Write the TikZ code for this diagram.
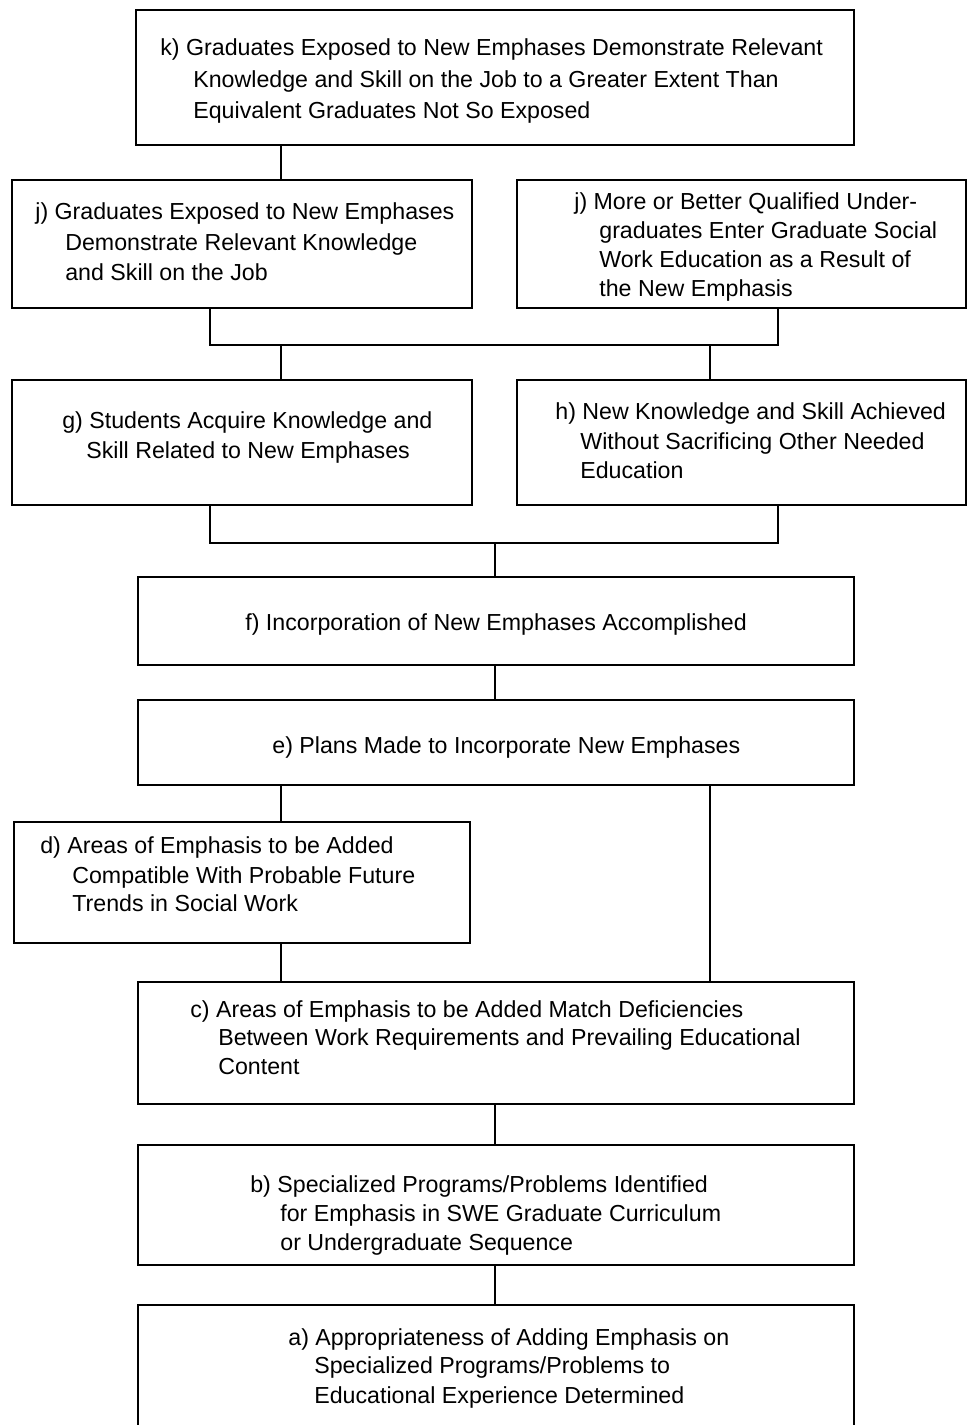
\documentclass[tikz,border=0pt]{standalone}
\usepackage{fontspec}
\setmainfont{Liberation Sans}
\begin{document}
\begin{tikzpicture}[x=0.02cm,y=-0.02cm,
  box/.style={draw, line width=1.4pt, inner sep=0pt},
  wire/.style={draw, line width=0.9pt},
  txt/.style={inner sep=0pt, anchor=mid west, yshift=-0.05cm,
              font=\fontsize{13.2}{16}\selectfont}]
\useasboundingbox (0,0) rectangle (968,1425);

% ---- boxes, named by their letter -------------------------------------
\node[box, minimum width=718*0.02cm, minimum height=135*0.02cm] (k)  at (495,77.5)  {};
\node[box, minimum width=460*0.02cm, minimum height=128*0.02cm] (jl) at (242,244)   {};
\node[box, minimum width=449*0.02cm, minimum height=128*0.02cm] (jr) at (741.5,244) {};
\node[box, minimum width=460*0.02cm, minimum height=125*0.02cm] (g)  at (242,442.5) {};
\node[box, minimum width=449*0.02cm, minimum height=125*0.02cm] (h)  at (741.5,442.5) {};
\node[box, minimum width=716*0.02cm, minimum height=88*0.02cm]  (f)  at (496,621)   {};
\node[box, minimum width=716*0.02cm, minimum height=85*0.02cm]  (e)  at (496,742.5) {};
\node[box, minimum width=456*0.02cm, minimum height=121*0.02cm] (d)  at (242,882.5) {};
\node[box, minimum width=716*0.02cm, minimum height=122*0.02cm] (c)  at (496,1043)  {};
\node[box, minimum width=716*0.02cm, minimum height=120*0.02cm] (b)  at (496,1205)  {};
\node[box, minimum width=716*0.02cm, minimum height=130*0.02cm] (a)  at (496,1370)  {};

% ---- box texts -----------------------------------------------------------
\node[txt] (k1) at (160,48)  {k) Graduates Exposed to New Emphases Demonstrate Relevant};
\node[txt] (k2) at (193,80)  {Knowledge and Skill on the Job to a Greater Extent Than};
\node[txt] (k3) at (193,111) {Equivalent Graduates Not So Exposed};

\node[txt] (jl1) at (35,212) {j) Graduates Exposed to New Emphases};
\node[txt] (jl2) at (65,243) {Demonstrate Relevant Knowledge};
\node[txt] (jl3) at (65,273) {and Skill on the Job};

\node[txt] (jr1) at (574,202) {j) More or Better Qualified Under-};
\node[txt] (jr2) at (599,231) {graduates Enter Graduate Social};
\node[txt] (jr3) at (599,260) {Work Education as a Result of};
\node[txt] (jr4) at (599,289) {the New Emphasis};

\node[txt] (g1) at (62,421) {g) Students Acquire Knowledge and};
\node[txt] (g2) at (86,451) {Skill Related to New Emphases};

\node[txt] (h1) at (555,412) {h) New Knowledge and Skill Achieved};
\node[txt] (h2) at (580,442) {Without Sacrificing Other Needed};
\node[txt] (h3) at (580,471) {Education};

\node[txt] (f1) at (245,623) {f) Incorporation of New Emphases Accomplished};

\node[txt] (e1) at (272,746) {e) Plans Made to Incorporate New Emphases};

\node[txt] (d1) at (40,846) {d) Areas of Emphasis to be Added};
\node[txt] (d2) at (72,876) {Compatible With Probable Future};
\node[txt] (d3) at (72,904) {Trends in Social Work};

\node[txt] (c1) at (190,1010) {c) Areas of Emphasis to be Added Match Deficiencies};
\node[txt] (c2) at (218,1038) {Between Work Requirements and Prevailing Educational};
\node[txt] (c3) at (218,1067) {Content};

\node[txt] (b1) at (250,1185) {b) Specialized Programs/Problems Identified};
\node[txt] (b2) at (280,1214) {for Emphasis in SWE Graduate Curriculum};
\node[txt] (b3) at (280,1243) {or Undergraduate Sequence};

\node[txt] (a1) at (288,1338) {a) Appropriateness of Adding Emphasis on};
\node[txt] (a2) at (314,1366) {Specialized Programs/Problems to};
\node[txt] (a3) at (314,1396) {Educational Experience Determined};

% ---- connectors ----------------------------------------------------------
\coordinate (kx) at (281,0);
\draw[wire] (k.south -| kx) -- (jl.north -| kx);

% bracket joining the two j boxes, fed by g and h
\coordinate (uL) at (210,345);
\coordinate (uR) at (778,345);
\coordinate (uG) at (281,345);
\coordinate (uH) at (710,345);
\draw[wire] (jl.south -| uL) -- (uL) -- (uR) -- (jr.south -| uR);
\draw[wire] (uG) -- (g.north -| uG);
\draw[wire] (uH) -- (h.north -| uH);

% bracket joining g and h, fed by f
\coordinate (lL) at (210,543);
\coordinate (lR) at (778,543);
\coordinate (lM) at (495,543);
\draw[wire] (g.south -| lL) -- (lL) -- (lR) -- (h.south -| lR);
\draw[wire] (lM) -- (f.north -| lM);

\coordinate (mx) at (495,0);
\draw[wire] (f.south -| mx) -- (e.north -| mx);

% e is fed by d and directly by c
\coordinate (ex) at (710,0);
\draw[wire] (e.south -| kx) -- (d.north -| kx);
\draw[wire] (e.south -| ex) -- (c.north -| ex);
\draw[wire] (d.south -| kx) -- (c.north -| kx);

\draw[wire] (c.south -| mx) -- (b.north -| mx);
\draw[wire] (b.south -| mx) -- (a.north -| mx);
\end{tikzpicture}
\end{document}
